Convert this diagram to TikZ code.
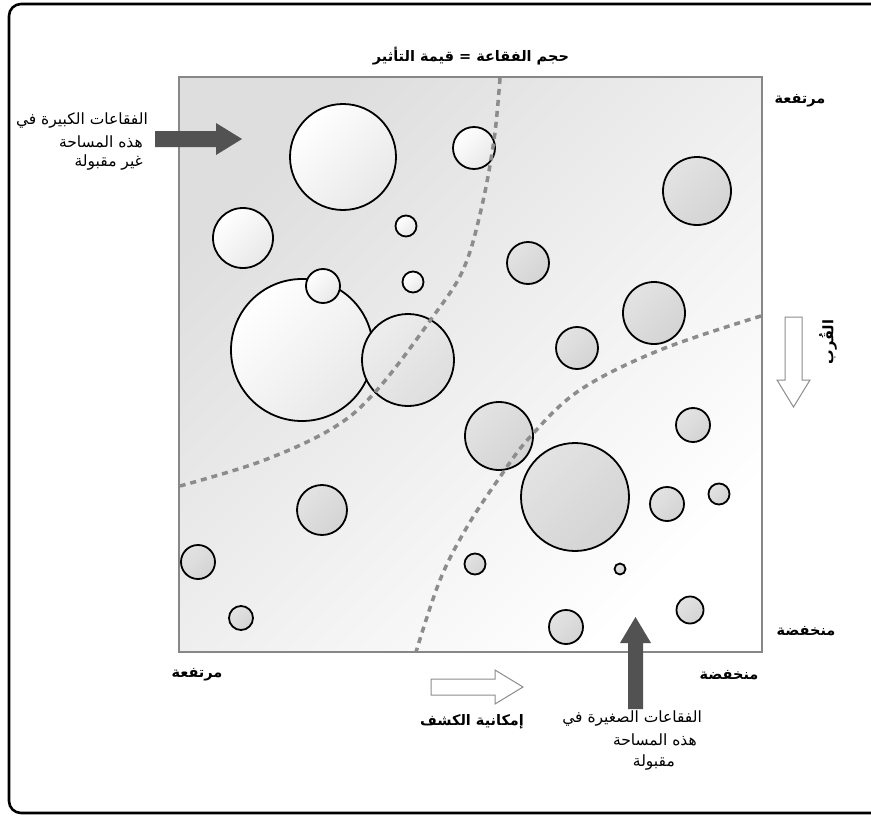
\documentclass[tikz,border=0pt]{standalone}
\usepackage{fontspec}
\TeXXeTstate=1
\newfontfamily\arabicfont[Script=Arabic]{DejaVu Sans}
\begin{document}
\begin{tikzpicture}[x=1pt,y=-1pt,
  lbl/.style={font=\arabicfont\bfseries\fontsize{14.5}{16}\selectfont, inner sep=0pt},
  note/.style={font=\arabicfont\fontsize{15.5}{17}\selectfont, inner sep=0pt},
  bubble/.style={draw=black, line width=1.8pt},
  lightbub/.style={bubble, top color=white, bottom color=black!9, shading angle=45},
  midbub/.style={bubble, top color=black!7, bottom color=black!13, shading angle=45},
  greybub/.style={bubble, top color=black!11, bottom color=black!17, shading angle=45},
  zone/.style={draw=black!45, line width=3.5pt, dash pattern=on 6pt off 5pt},
  solidarrow/.style={fill=black!68, draw=none},
  hollowarrow/.style={fill=white, draw=black!45, line width=1pt},
]
\useasboundingbox (0,0) rectangle (871,816);

% outer frame
\draw[line width=2.6pt, rounded corners=12pt] (9,4) rectangle (930,813);

% plot field
\shade[top color=black!13, bottom color=white, shading angle=45] (179,77) rectangle (762,652);

% bubbles in the upper-left zone
\shadedraw[lightbub] (343,157) circle[radius=53pt];
\shadedraw[lightbub] (474,148) circle[radius=21pt];
\shadedraw[lightbub] (243,238) circle[radius=30pt];
\shadedraw[lightbub] (406,226) circle[radius=10.5pt];
\shadedraw[lightbub] (413,282) circle[radius=10.5pt];
\shadedraw[lightbub] (302,350) circle[radius=71pt];
\shadedraw[lightbub] (323,286) circle[radius=17pt];
\shadedraw[midbub]   (408,360) circle[radius=46pt];

% remaining bubbles
\shadedraw[greybub] (697,191) circle[radius=34pt];
\shadedraw[greybub] (528,263) circle[radius=21pt];
\shadedraw[greybub] (654,313) circle[radius=31pt];
\shadedraw[greybub] (577,348) circle[radius=21pt];
\shadedraw[greybub] (499,436) circle[radius=34pt];
\shadedraw[greybub] (693,425) circle[radius=17pt];
\shadedraw[greybub] (575,497) circle[radius=54pt];
\shadedraw[greybub] (667,504) circle[radius=17pt];
\shadedraw[greybub] (719,494) circle[radius=10.5pt];
\shadedraw[greybub] (322,510) circle[radius=25pt];
\shadedraw[greybub] (198,562) circle[radius=17pt];
\shadedraw[greybub] (475,564) circle[radius=10.5pt];
\shadedraw[greybub] (620,569) circle[radius=5.5pt];
\shadedraw[greybub] (241,618) circle[radius=12pt];
\shadedraw[greybub] (566,627) circle[radius=17pt];
\shadedraw[greybub] (690,610) circle[radius=13.5pt];

% zone boundaries
\draw[zone] plot[smooth, tension=0.6] coordinates {(500,78) (494,140) (481,210) (463,270) (432,318) (377,390) (333,428) (262,461) (180,486)};
\draw[zone] plot[smooth, tension=0.6] coordinates {(761,316) (660,350) (580,390) (530,437) (500,477) (467,527) (440,580) (416,652)};

% plot border
\draw[draw=black!47, line width=2.6pt] (179,77) rectangle (762,652);

% callout arrows
\fill[solidarrow] (155,131) -- (216,131) -- (216,123) -- (242,139) -- (216,155) -- (216,147) -- (155,147) -- cycle;
\fill[solidarrow] (628,709) -- (628,643) -- (620,643) -- (635.5,617) -- (651,643) -- (643,643) -- (643,709) -- cycle;

% axis direction arrows
\draw[hollowarrow] (431,679) -- (495,679) -- (495,670) -- (523,687) -- (495,704) -- (495,695) -- (431,695) -- cycle;
\draw[hollowarrow] (785,317) -- (802,317) -- (802,380) -- (810,380) -- (793.5,407) -- (777,380) -- (785,380) -- cycle;

% texts
\node[lbl] (title) at (471,56) {\beginR حجم الفقاعة = قيمة التأثير\endR};
\node[lbl] (yhigh) at (800,101) {\beginR مرتفعة\endR};
\node[lbl] (ylow) at (806,631) {\beginR منخفضة\endR};
\node[lbl, rotate=90] (yaxis) at (828,342) {\beginR القُرب\endR};
\node[lbl] (xhigh) at (197,675) {\beginR مرتفعة\endR};
\node[lbl] (xlow) at (729,675) {\beginR منخفضة\endR};
\node[lbl] (xaxis) at (472,722) {\beginR إمكانية الكشف\endR};

\node[note, anchor=east] (big1) at (148,121) {\beginR الفقاعات الكبيرة في\endR};
\node[note, anchor=east] (big2) at (143,142) {\beginR هذه المساحة\endR};
\node[note, anchor=east] (big3) at (143,163) {\beginR غير مقبولة\endR};

\node[note, anchor=east] (small1) at (702,718) {\beginR الفقاعات الصغيرة في\endR};
\node[note, anchor=east] (small2) at (697,740) {\beginR هذه المساحة\endR};
\node[note, anchor=east] (small3) at (675,762) {\beginR مقبولة\endR};
\end{tikzpicture}
\end{document}
